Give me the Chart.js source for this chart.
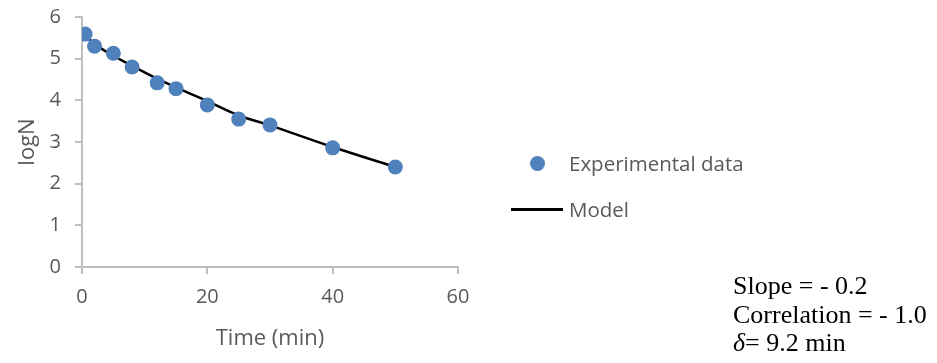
<!DOCTYPE html>
<html>
<head>
<meta charset="utf-8">
<script src="https://cdn.jsdelivr.net/npm/chart.js@4.4.1/dist/chart.umd.min.js"></script>
<style>
  html, body { margin:0; padding:0; background:#fff; }
  #wrap { position:relative; width:937px; height:363px; }
  #c { position:absolute; left:0; top:0; }
  .leg { position:absolute; font-family:"Open Sans", sans-serif; font-size:20.5px; color:#595959; line-height:24px; white-space:nowrap; }
  .dot { position:absolute; width:15px; height:15px; border-radius:50%; background:#4f81bd; }
  .lline { position:absolute; height:2.5px; background:#000; }
  .note { position:absolute; font-family:"Liberation Serif", "Times New Roman", serif; font-size:26px; color:#000; line-height:28.5px; white-space:nowrap; }
</style>
</head>
<body>
<div id="wrap">
  <canvas id="c" width="937" height="363"></canvas>
  <div class="dot" style="left:530px; top:156px;"></div>
  <div class="leg" style="left:569px; top:151px;">Experimental data</div>
  <div class="lline" style="left:511px; top:208px; width:52px;"></div>
  <div class="leg" style="left:569px; top:197px;">Model</div>
  <div class="note" style="left:733px; top:272px;">Slope = - 0.2<br>Correlation = - 1.0<br><i>δ</i>= 9.2 min</div>
</div>
<script>
const timeMin = [0.5, 2, 5, 8, 12, 15, 20, 25, 30, 40, 50];
const expLogN = [5.59, 5.30, 5.13, 4.80, 4.42, 4.28, 3.89, 3.55, 3.41, 2.86, 2.40];
const modelTime = [0.5, 2, 5, 8, 12, 15, 20, 25, 30, 40, 50];
const modelLogN = [5.57, 5.35, 5.07, 4.83, 4.52, 4.31, 3.98, 3.64, 3.40, 2.88, 2.40];
const xTicks = [0, 20, 40, 60];
const yTicks = [0, 1, 2, 3, 4, 5, 6];

const grey = '#595959';
const axisCol = '#bfbfbf';

new Chart(document.getElementById('c'), {
  type: 'scatter',
  data: {
    datasets: [
      {
        label: 'Model',
        data: modelTime.map((t, i) => ({x: t, y: modelLogN[i]})),
        showLine: true,
        borderColor: '#000',
        borderWidth: 2.5,
        pointRadius: 0,
        tension: 0.4,
        order: 2
      },
      {
        label: 'Experimental data',
        data: timeMin.map((t, i) => ({x: t, y: expLogN[i]})),
        backgroundColor: '#4f81bd',
        borderColor: '#4f81bd',
        pointRadius: 7.5,
        pointBorderWidth: 0,
        order: 1
      }
    ]
  },
  options: {
    responsive: false,
    animation: false,
    layout: { padding: { left: 0, right: 479, top: 17, bottom: 0 } },
    plugins: { legend: { display: false }, tooltip: { enabled: false } },
    scales: {
      x: {
        type: 'linear', min: 0, max: 60,
        afterBuildTicks: s => { s.ticks = xTicks.map(v => ({value: v})); },
        afterFit: s => { s.height = 96; s.paddingLeft = 0; s.paddingRight = 0; },
        border: { color: axisCol, width: 2 },
        grid: { drawOnChartArea: false, drawTicks: true, tickLength: 7, color: axisCol, lineWidth: 2 },
        ticks: { color: grey, font: { family: 'Open Sans', size: 20 }, padding: 11 },
        title: { display: true, text: 'Time (min)', color: grey, font: { family: 'Open Sans', size: 22 }, padding: { top: 0, bottom: 11 } }
      },
      y: {
        type: 'linear', min: 0, max: 6,
        afterBuildTicks: s => { s.ticks = yTicks.map(v => ({value: v})); },
        afterFit: s => { s.width = 82; s.paddingTop = 0; s.paddingBottom = 0; },
        border: { color: axisCol, width: 2 },
        grid: { drawOnChartArea: false, drawTicks: true, tickLength: 7, color: axisCol, lineWidth: 2 },
        ticks: { color: grey, font: { family: 'Open Sans', size: 20 }, padding: 14 },
        title: { display: true, text: 'logN', color: grey, font: { family: 'Open Sans', size: 22 }, padding: { top: 15, bottom: 0 } }
      }
    }
  }
});
</script>
</body>
</html>
